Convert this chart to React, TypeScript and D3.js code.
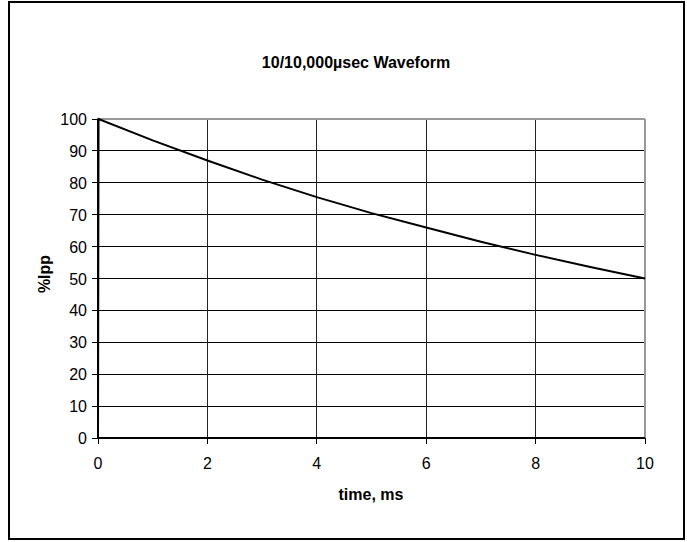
import * as d3 from "d3";

// waveform samples (time in ms, %Ipp)
const timeMs = [0, 0.01, 1, 2, 3, 4, 5, 6, 7, 8, 9, 10];
const percentIpp = [0, 100, 93.3, 87, 81, 75.5, 70.5, 66, 61.5, 57.4, 53.6, 50];
const xTicks = [0, 2, 4, 6, 8, 10];
const yTicks = [0, 10, 20, 30, 40, 50, 60, 70, 80, 90, 100];

const W = 687;
const H = 542;
const plot = { left: 98, right: 645, top: 119, bottom: 438 };
const font = "'Liberation Sans', Arial, sans-serif";

export default function App() {
  const x = d3.scaleLinear().domain([0, 10]).range([plot.left, plot.right]);
  const y = d3.scaleLinear().domain([0, 100]).range([plot.bottom, plot.top]);

  const points = timeMs.map((t, i) => [t, percentIpp[i]] as [number, number]);
  const line = d3
    .line<[number, number]>()
    .x((d) => x(d[0]))
    .y((d) => y(d[1]));

  return (
    <svg
      width={W}
      height={H}
      style={{ position: "absolute", left: 0, top: 0, background: "#fff" }}
      fontFamily={font}
    >
      <rect x={9} y={2} width={675} height={537} fill="#fff" stroke="#000" strokeWidth={2} />

      <text x={356} y={68} textAnchor="middle" fontSize={16} fontWeight="bold">
        10/10,000µsec Waveform
      </text>

      {/* horizontal grid */}
      {yTicks.slice(1, -1).map((v) => (
        <line key={"h" + v} x1={plot.left} x2={plot.right} y1={y(v)} y2={y(v)} stroke="#000" strokeWidth={1} shapeRendering="crispEdges" />
      ))}
      {/* vertical grid */}
      {xTicks.slice(1, -1).map((v) => (
        <line key={"v" + v} x1={x(v)} x2={x(v)} y1={plot.top} y2={plot.bottom} stroke="#222" strokeWidth={1} shapeRendering="crispEdges" />
      ))}
      {/* plot border (top, right) */}
      <line x1={plot.left} x2={plot.right} y1={plot.top} y2={plot.top} stroke="#999" strokeWidth={2} shapeRendering="crispEdges" />
      <line x1={plot.right} x2={plot.right} y1={plot.top} y2={plot.bottom} stroke="#999" strokeWidth={2} shapeRendering="crispEdges" />

      {/* y axis */}
      <line x1={plot.left} x2={plot.left} y1={plot.top} y2={plot.bottom} stroke="#000" strokeWidth={2} shapeRendering="crispEdges" />
      {yTicks.map((v) => (
        <g key={"yt" + v}>
          <line x1={plot.left - 6} x2={plot.left} y1={y(v)} y2={y(v)} stroke="#000" strokeWidth={1} shapeRendering="crispEdges" />
          <text x={plot.left - 11} y={y(v) + 6} textAnchor="end" fontSize={16}>
            {v}
          </text>
        </g>
      ))}

      {/* x axis */}
      <line x1={plot.left} x2={plot.right} y1={plot.bottom} y2={plot.bottom} stroke="#000" strokeWidth={2} shapeRendering="crispEdges" />
      {xTicks.map((v) => (
        <g key={"xt" + v}>
          <line x1={x(v)} x2={x(v)} y1={plot.bottom} y2={plot.bottom + 6} stroke="#000" strokeWidth={1} shapeRendering="crispEdges" />
          <text x={x(v)} y={plot.bottom + 31} textAnchor="middle" fontSize={16}>
            {v}
          </text>
        </g>
      ))}

      <path d={line(points) ?? ""} fill="none" stroke="#000" strokeWidth={2} />

      <text x={371} y={500} textAnchor="middle" fontSize={16} fontWeight="bold">
        time, ms
      </text>
      <text
        transform={`translate(50,274) rotate(-90)`}
        textAnchor="middle"
        fontSize={16}
        fontWeight="bold"
      >
        %Ipp
      </text>
    </svg>
  );
}
